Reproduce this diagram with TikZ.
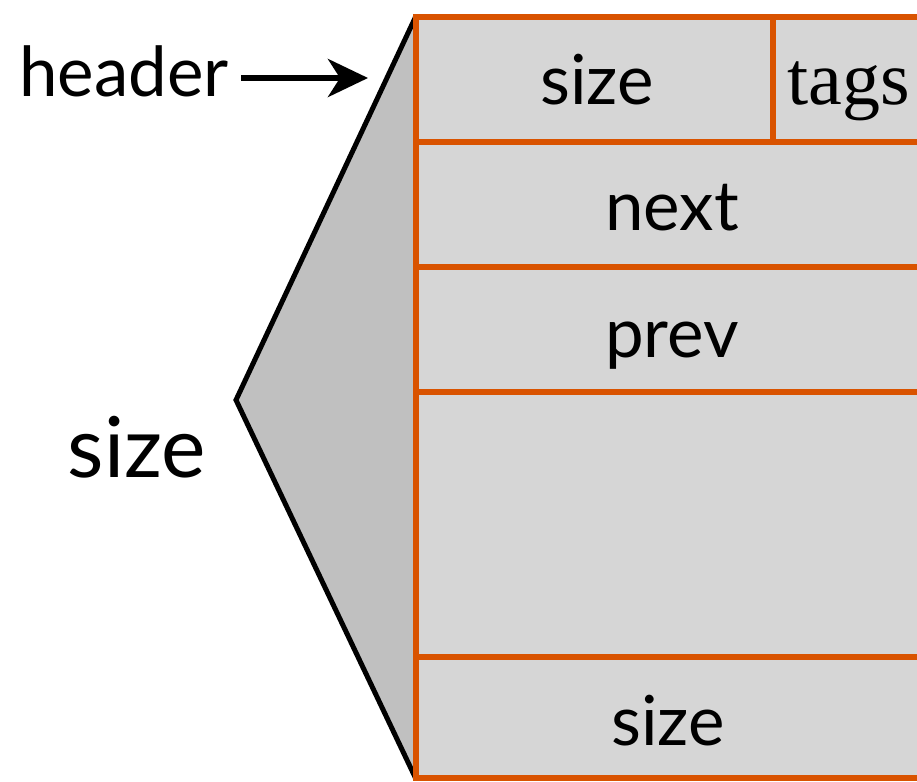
\documentclass[tikz,border=0pt]{standalone}
\usepackage{fontspec}
\setmainfont{Lato}
\newfontfamily\tagsfont{Liberation Serif}
\usetikzlibrary{arrows.meta}
\definecolor{rust}{RGB}{217,83,0}
\definecolor{cellgray}{RGB}{214,214,214}
\definecolor{wedgegray}{RGB}{192,192,192}
\begin{document}
\begin{tikzpicture}[x=1pt,y=-1pt,
  cell/.style={draw=rust, fill=cellgray, line width=6pt, rectangle, inner sep=0pt},
  lbl/.style={anchor=base, inner sep=0pt, font=\fontsize{69}{76}\selectfont},
  wedge/.style={draw=black, line width=5pt, line join=miter, fill=wedgegray},
  arr/.style={draw=black, line width=6pt, -{Stealth[length=40pt,width=38pt,inset=12pt]}}]
  \useasboundingbox (0,0) rectangle (917,781);
  \clip (0,0) rectangle (917,781);

  % bracket wedge spanning the whole block
  \coordinate (tl) at (415.5,17);
  \coordinate (bl) at (415.5,778);
  \coordinate (apex) at (236,400);
  \fill[wedgegray] (tl) -- (apex) -- (bl) -- cycle;
  \draw[wedge, fill=none] (tl) -- (apex) -- (bl);

  % block cells
  \node[cell, minimum width=357pt, minimum height=125pt] (hsize) at (594,79.5) {};
  \node[cell, minimum width=227pt, minimum height=125pt] (htags) at (886,79.5) {};
  \node[cell, minimum width=585pt, minimum height=125pt] (next) at (708,204.5) {};
  \node[cell, minimum width=585pt, minimum height=125pt] (prev) at (708,329.5) {};
  \node[cell, minimum width=585pt, minimum height=265pt] (payload) at (708,524.5) {};
  \node[cell, minimum width=585pt, minimum height=121pt] (fsize) at (708,717.5) {};

  % cell labels
  \node[lbl] (thsize) at (597,105) {size};
  \node[lbl, font=\fontsize{76}{84}\tagsfont] (thtags) at (849,105) {tags};
  \node[lbl] (tnext) at (672,230) {next};
  \node[lbl] (tprev) at (672,357) {prev};
  \node[lbl] (tfsize) at (668,745) {size};

  % outside labels
  \node[lbl, font=\fontsize{84}{92}\selectfont] (tsize) at (137,477) {size};
  \node[lbl, anchor=base east] (hdr) at (229,97) {header};
  \coordinate (hdrtip) at (368,78);
  \draw[arr] ([xshift=12pt]hdr.east |- hdrtip) -- (hdrtip);
\end{tikzpicture}
\end{document}
